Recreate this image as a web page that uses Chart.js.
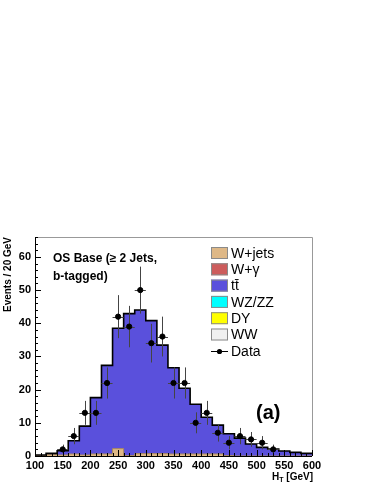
<!DOCTYPE html>
<html>
<head>
<meta charset="utf-8">
<title>HT - OS Base b-tagged</title>
<script src="https://cdn.jsdelivr.net/npm/chart.js"></script>
<style>
  html, body { margin: 0; padding: 0; background: #fff; }
  #wrap { width: 374px; height: 484px; }
</style>
</head>
<body>
<div id="wrap"><canvas id="htChart" width="374" height="484"></canvas></div>
<script>
// bin edges (GeV), 20 GeV bins
var binEdges = [100,120,140,160,180,200,220,240,260,280,300,320,340,360,380,400,420,440,460,480,500,520,540,560,580,600];

// stacked backgrounds, events per bin
var wjets  = [0.1,0.4,0.3,0.6,0.3,0.6,0.6,2.2,0.1,0.7,0.7,0.7,0.6,0.6,0.6,0.6,0.6,0.1,0,0,0,0,0,0,0];
var wgamma = [0,0,0,0,0,0,0,0,0,0,0,0,0,0,0,0,0,0,0,0,0,0,0,0,0];
var ttbar  = [0.2,0.4,1.3,4.0,8.7,17.0,26.7,36.3,42.8,43.3,40.1,32.7,26.0,19.8,15.0,11.1,8.7,6.6,5.4,3.6,2.6,2.1,1.5,1.1,0.8];
var wzzz   = [0,0,0,0,0,0,0,0,0,0,0,0,0,0,0,0,0,0,0,0,0,0,0,0,0];
var dy     = [0,0,0,0,0,0,0,0,0,0,0,0,0,0,0,0,0,0,0,0,0,0,0,0,0];
var ww     = [0,0,0,0,0,0,0,0,0,0,0,0,0,0,0,0,0,0,0,0,0,0,0,0,0];

// observed data counts per bin
var dataCounts = [0,0,2,6,13,13,22,42,39,50,34,36,22,22,10,13,7,4,6,5,4,2,0,0,0];

var xTickValues = [100,150,200,250,300,350,400,450,500,550,600];
var yTickValues = [0,10,20,30,40,50,60];

var legendNames = ['W+jets', 'W+\u03b3', 'tt\u0304', 'WZ/ZZ', 'DY', 'WW', 'Data'];
var layerColors = ['#deb887', '#cd5c5c', '#5a50dc', '#00ffff', '#ffff00', '#f0f0f0'];

var layers = [wjets, wgamma, ttbar, wzzz, dy, ww];

// running sums so each layer can be filled down to zero
var cum = [];
layers.forEach(function (arr, k) {
    cum.push(arr.map(function (v, i) { return v + (k > 0 ? cum[k - 1][i] : 0); }));
});

function stepPoints(vals) {
    var pts = vals.map(function (v, i) { return { x: binEdges[i], y: v }; });
    pts.push({ x: binEdges[binEdges.length - 1], y: vals[vals.length - 1] });
    return pts;
}

var dataPoints = [];
dataCounts.forEach(function (n, i) {
    if (n > 0) dataPoints.push({ x: (binEdges[i] + binEdges[i + 1]) / 2, y: n, lo: binEdges[i], hi: binEdges[i + 1] });
});

var datasets = [];
datasets.push({
    type: 'scatter', label: 'Data', data: dataPoints,
    pointRadius: 2.6, pointBackgroundColor: '#000', pointBorderColor: '#000', showLine: false
});
datasets.push({
    label: 'total', data: stepPoints(cum[5]), stepped: 'before',
    borderColor: '#000', borderWidth: 1.6, pointRadius: 0, fill: false
});
for (var k = 0; k < layers.length; k++) {
    datasets.push({
        label: legendNames[k], data: stepPoints(cum[k]), stepped: 'before',
        backgroundColor: layerColors[k],
        borderColor: k === 0 ? '#a88a5e' : layerColors[k],
        borderWidth: k === 0 ? 1 : 0,
        pointRadius: 0, fill: 'origin'
    });
}

var FONT = '"Liberation Sans", Arial, sans-serif';

var errorBars = {
    id: 'errorBars',
    beforeDatasetDraw: function (chart, args) {
        if (args.index !== 0) return;
        var ctx = chart.ctx, xs = chart.scales.x, ys = chart.scales.y;
        ctx.save();
        ctx.strokeStyle = '#444';
        ctx.lineWidth = 1;
        dataPoints.forEach(function (p) {
            var e = Math.sqrt(p.y);
            var px = Math.round(xs.getPixelForValue(p.x)) + 0.5;
            var py = Math.round(ys.getPixelForValue(p.y)) + 0.5;
            ctx.beginPath();
            ctx.moveTo(px, ys.getPixelForValue(p.y + e));
            ctx.lineTo(px, ys.getPixelForValue(Math.max(p.y - e, 0)));
            ctx.moveTo(xs.getPixelForValue(p.lo), py);
            ctx.lineTo(xs.getPixelForValue(p.hi), py);
            ctx.stroke();
        });
        ctx.restore();
    }
};

var frameTicks = {
    id: 'frameTicks',
    afterDatasetsDraw: function (chart) {
        var ctx = chart.ctx, a = chart.chartArea, xs = chart.scales.x, ys = chart.scales.y;
        ctx.save();
        ctx.lineWidth = 1;
        ctx.strokeStyle = '#999';
        ctx.beginPath();
        ctx.moveTo(a.left, a.top + 0.5);
        ctx.lineTo(a.right + 0.5, a.top + 0.5);
        ctx.lineTo(a.right + 0.5, a.bottom);
        ctx.stroke();
        ctx.strokeStyle = '#000';
        ctx.beginPath();
        ctx.moveTo(a.left + 0.5, a.top);
        ctx.lineTo(a.left + 0.5, a.bottom + 0.5);
        ctx.lineTo(a.right, a.bottom + 0.5);
        // y ticks, inside the frame
        for (var v = 0; v <= ys.max; v += 2) {
            var py = Math.round(ys.getPixelForValue(v)) + 0.5;
            ctx.moveTo(a.left, py);
            ctx.lineTo(a.left + (v % 10 === 0 ? 6 : 3), py);
        }
        // x ticks, inside the frame
        for (var g = xs.min; g <= xs.max; g += 10) {
            var px = Math.round(xs.getPixelForValue(g)) + 0.5;
            ctx.moveTo(px, a.bottom);
            ctx.lineTo(px, a.bottom - (g % 50 === 0 ? 6 : 3));
        }
        ctx.stroke();
        ctx.restore();
    }
};

var labelsAndLegend = {
    id: 'labelsAndLegend',
    afterDraw: function (chart) {
        var ctx = chart.ctx, a = chart.chartArea;
        ctx.save();
        ctx.fillStyle = '#000';

        // axis titles
        ctx.font = 'bold 10px ' + FONT;
        ctx.save();
        ctx.translate(11, a.top);
        ctx.rotate(-Math.PI / 2);
        ctx.textAlign = 'right';
        ctx.textBaseline = 'alphabetic';
        ctx.fillText('Events / 20 GeV', 0, 0);
        ctx.restore();

        ctx.textAlign = 'left';
        ctx.textBaseline = 'alphabetic';
        var t1 = ' [GeV]';
        var wH = ctx.measureText('H').width;
        ctx.font = 'bold 7px ' + FONT;
        var wT = ctx.measureText('T').width;
        ctx.font = 'bold 10px ' + FONT;
        var wR = ctx.measureText(t1).width;
        var x0 = a.right + 1 - (wH + wT + wR);
        ctx.fillText('H', x0, 480);
        ctx.fillText(t1, x0 + wH + wT, 480);
        ctx.font = 'bold 7px ' + FONT;
        ctx.fillText('T', x0 + wH, 482);

        // selection label
        ctx.font = 'bold 12px ' + FONT;
        ctx.fillText('OS Base (\u2265 2 Jets,', 53, 262);
        ctx.fillText('b-tagged)', 53, 280);

        ctx.font = 'bold 20px ' + FONT;
        ctx.fillText('(a)', 256, 419);

        // legend
        var lx = 211, ly = 253, step = 16.3;
        ctx.font = '14px ' + FONT;
        ctx.textBaseline = 'middle';
        for (var i = 0; i < legendNames.length; i++) {
            var cy = ly + i * step;
            if (i < layerColors.length) {
                ctx.fillStyle = layerColors[i];
                ctx.fillRect(lx, cy - 6, 17, 12);
                ctx.strokeStyle = '#8a8a8a';
                ctx.lineWidth = 1;
                ctx.strokeRect(lx + 0.5, cy - 5.5, 16, 11);
            } else {
                ctx.strokeStyle = '#000';
                ctx.lineWidth = 1;
                ctx.beginPath();
                ctx.moveTo(lx, Math.round(cy) + 0.5);
                ctx.lineTo(lx + 17, Math.round(cy) + 0.5);
                ctx.stroke();
                ctx.fillStyle = '#000';
                ctx.beginPath();
                ctx.arc(lx + 8.5, Math.round(cy) + 0.5, 2.6, 0, Math.PI * 2);
                ctx.fill();
            }
            ctx.fillStyle = '#000';
            ctx.fillText(legendNames[i], lx + 20, cy + 1);
        }
        ctx.restore();
    }
};

new Chart(document.getElementById('htChart'), {
    type: 'line',
    data: { datasets: datasets },
    options: {
        responsive: false,
        animation: false,
        devicePixelRatio: 1,
        layout: { padding: { top: 237, right: 62, left: 0, bottom: 0 } },
        plugins: { legend: { display: false }, tooltip: { enabled: false } },
        scales: {
            x: {
                type: 'linear', min: 100, max: 600,
                afterFit: function (s) { s.height = 28; },
                afterBuildTicks: function (s) { s.ticks = xTickValues.map(function (v) { return { value: v }; }); },
                grid: { display: false, drawTicks: false },
                border: { display: false },
                ticks: { padding: 3, maxRotation: 0, autoSkip: false, color: '#000',
                         font: { family: FONT, size: 11, weight: 'bold' } }
            },
            y: {
                min: 0, max: 66,
                afterFit: function (s) { s.width = 35; },
                afterBuildTicks: function (s) { s.ticks = yTickValues.map(function (v) { return { value: v }; }); },
                grid: { display: false, drawTicks: false },
                border: { display: false },
                ticks: { padding: 4, color: '#000',
                         font: { family: FONT, size: 11, weight: 'bold' } }
            }
        }
    },
    plugins: [errorBars, frameTicks, labelsAndLegend]
});
</script>
</body>
</html>
